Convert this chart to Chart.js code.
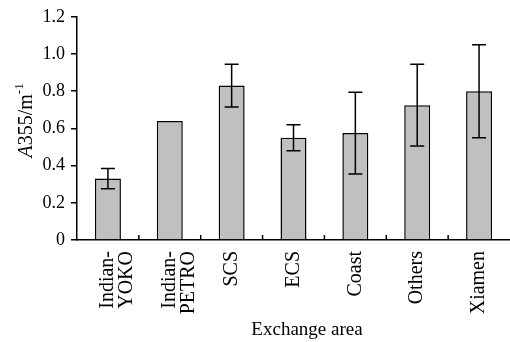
<!DOCTYPE html>
<html>
<head>
<meta charset="utf-8">
<script src="https://cdn.jsdelivr.net/npm/chart.js@4/dist/chart.umd.min.js"></script>
<style>
  body { margin: 0; background: #fff; }
  #wadah { width: 510px; height: 342px; position: relative; }
</style>
</head>
<body>
<div id="wadah"><canvas id="grafik-a355"></canvas></div>
<script>
// Data dari gambar
const kategori = [['Indian-', 'YOKO'], ['Indian-', 'PETRO'], 'SCS', 'ECS', 'Coast', 'Others', 'Xiamen'];
const nilaiA355 = [0.33, 0.64, 0.83, 0.55, 0.575, 0.725, 0.80];
const galatA355 = [0.055, 0, 0.115, 0.07, 0.22, 0.22, 0.25];
const tickY = [0, 0.2, 0.4, 0.6, 0.8, 1.0, 1.2];

const fontSerif = '"Liberation Serif", "Times New Roman", serif';

// Plugin untuk error bar, tick kategori ke dalam, dan judul sumbu
const pluginTambahan = {
  id: 'tambahan',
  afterDatasetsDraw(chart) {
    const ctx = chart.ctx;
    const x = chart.scales.x;
    const y = chart.scales.y;
    ctx.save();
    ctx.strokeStyle = '#000';
    ctx.lineWidth = 1.5;
    // error bar
    nilaiA355.forEach((v, i) => {
      const e = galatA355[i];
      if (!e) return;
      const px = x.getPixelForValue(i);
      const atas = y.getPixelForValue(v + e);
      const bawah = y.getPixelForValue(v - e);
      ctx.beginPath();
      ctx.moveTo(px, atas); ctx.lineTo(px, bawah);
      ctx.moveTo(px - 7, atas); ctx.lineTo(px + 7, atas);
      ctx.moveTo(px - 7, bawah); ctx.lineTo(px + 7, bawah);
      ctx.stroke();
    });
    // tick pemisah kategori (mengarah ke atas)
    const dasar = y.getPixelForValue(0);
    for (let i = 1; i < kategori.length; i++) {
      const px = (x.getPixelForValue(i - 1) + x.getPixelForValue(i)) / 2;
      ctx.beginPath();
      ctx.moveTo(px, dasar); ctx.lineTo(px, dasar - 5);
      ctx.stroke();
    }
    ctx.restore();
  },
  afterDraw(chart) {
    const ctx = chart.ctx;
    const y = chart.scales.y;
    // judul sumbu x
    ctx.save();
    ctx.fillStyle = '#000';
    ctx.font = '19px ' + fontSerif;
    ctx.textAlign = 'center';
    ctx.textBaseline = 'middle';
    ctx.fillText('Exchange area', 307, 330);
    ctx.restore();
    // judul sumbu y
    const tengah = (y.top + y.bottom) / 2 - 8;
    ctx.save();
    ctx.translate(27, tengah);
    ctx.rotate(-Math.PI / 2);
    ctx.fillStyle = '#000';
    ctx.textBaseline = 'middle';
    const fMiring = 'italic 20px ' + fontSerif;
    const fBiasa = '20px ' + fontSerif;
    const fKecil = '13px ' + fontSerif;
    ctx.font = fMiring; const w1 = ctx.measureText('A').width;
    ctx.font = fBiasa; const w2 = ctx.measureText('355/m').width;
    ctx.font = fKecil; const w3 = ctx.measureText('-1').width;
    let mulai = -(w1 + w2 + w3) / 2;
    ctx.textAlign = 'left';
    ctx.font = fMiring; ctx.fillText('A', mulai, 0); mulai += w1;
    ctx.font = fBiasa; ctx.fillText('355/m', mulai, 0); mulai += w2;
    ctx.font = fKecil; ctx.fillText('-1', mulai, -7);
    ctx.restore();
  }
};

function tampilkanGrafik() {
  const canvas = document.getElementById('grafik-a355');
  if (!canvas) {
    console.error('Canvas tidak ditemukan.');
    return;
  }
  new Chart(canvas.getContext('2d'), {
    type: 'bar',
    data: {
      labels: kategori,
      datasets: [{
        data: nilaiA355,
        backgroundColor: '#c0c0c0',
        borderColor: '#000',
        borderWidth: 1.5,
        barPercentage: 0.42,
        categoryPercentage: 1.0
      }]
    },
    options: {
      responsive: true,
      maintainAspectRatio: false,
      animation: false,
      layout: { padding: { top: 14, right: 0, left: 0, bottom: 0 } },
      plugins: {
        legend: { display: false },
        tooltip: { enabled: false }
      },
      scales: {
        x: {
          grid: { display: false, drawTicks: false },
          border: { color: '#000', width: 1.5 },
          ticks: {
            color: '#000',
            font: { family: fontSerif, size: 20, lineHeight: 0.95 },
            minRotation: 90,
            maxRotation: 90,
            padding: 11,
            autoSkip: false
          },
          afterFit(scale) { scale.height = 102; }
        },
        y: {
          min: 0,
          max: 1.2,
          afterBuildTicks(scale) { scale.ticks = tickY.map(v => ({ value: v })); },
          grid: { drawOnChartArea: false, color: '#000', lineWidth: 1.5, tickLength: 6 },
          border: { color: '#000', width: 1.5 },
          ticks: {
            color: '#000',
            font: { family: fontSerif, size: 18 },
            padding: 6,
            callback: v => (v === 0 ? '0' : v.toFixed(1))
          },
          afterFit(scale) { scale.width = 77; }
        }
      }
    },
    plugins: [pluginTambahan]
  });
}

document.addEventListener('DOMContentLoaded', () => {
  try {
    tampilkanGrafik();
  } catch (error) {
    console.error('Gagal memuat grafik:', error);
  }
});
</script>
</body>
</html>
